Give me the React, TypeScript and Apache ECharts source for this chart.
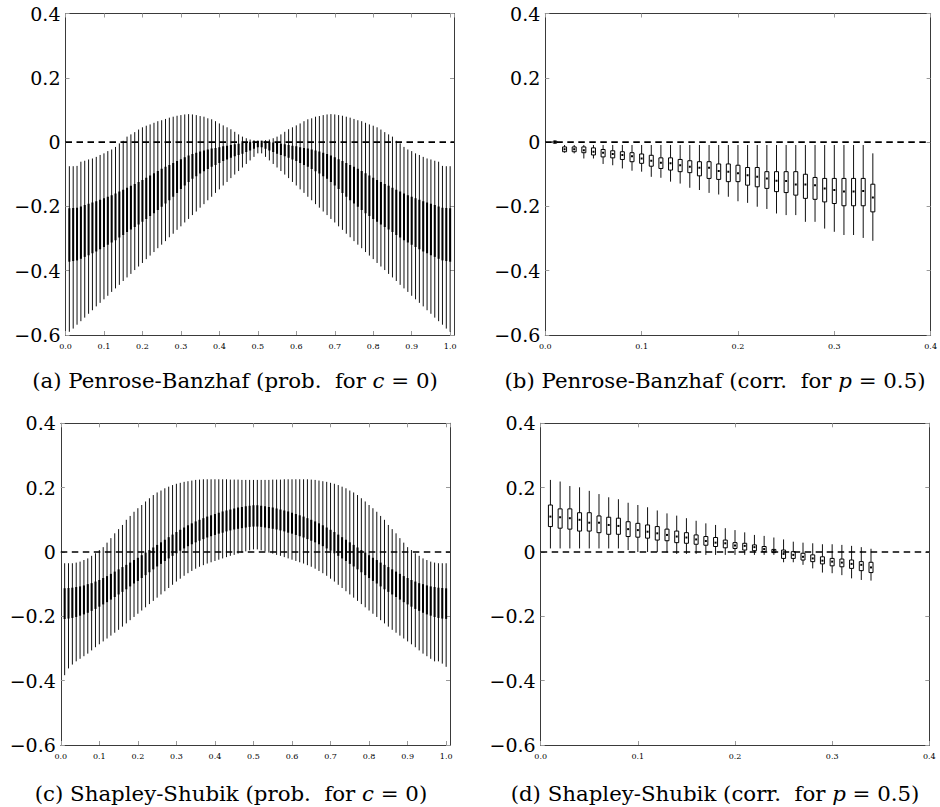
import React, { useEffect, useRef } from "react";
import * as echarts from "echarts";

// ---------- positions (x of each box) ----------
const probPositions: number[] = Array.from({ length: 100 }, (_, i) => (i + 1) / 100);
const corrPositions: number[] = Array.from({ length: 34 }, (_, i) => (i + 1) / 100);

const probRange = [0, 1.01];
const corrRange = [0, 0.4];
const yTicks = [-0.6, -0.4, -0.2, 0, 0.2, 0.4];

// ---------- (a) Penrose-Banzhaf, prob. for c = 0 ----------
const aMax = [
  -0.075, -0.075, -0.074, -0.061, -0.058, -0.054, -0.051, -0.046, -0.040, -0.035,
  -0.028, -0.023, -0.015, -0.004, 0.004, 0.017, 0.024, 0.031, 0.039, 0.046,
  0.051, 0.055, 0.060, 0.065, 0.068, 0.072, 0.076, 0.079, 0.082, 0.084,
  0.086, 0.087, 0.086, 0.084, 0.081, 0.079, 0.074, 0.071, 0.065, 0.058,
  0.052, 0.046, 0.040, 0.032, 0.024, 0.017, 0.012, 0.008, 0.006, 0.004,
  0.004, 0.006, 0.008, 0.012, 0.017, 0.024, 0.032, 0.040, 0.046, 0.052,
  0.058, 0.065, 0.071, 0.074, 0.079, 0.081, 0.084, 0.086, 0.087, 0.086,
  0.084, 0.082, 0.079, 0.076, 0.072, 0.068, 0.065, 0.060, 0.055, 0.051,
  0.046, 0.039, 0.031, 0.024, 0.017, 0.004, -0.004, -0.015, -0.023, -0.028,
  -0.035, -0.040, -0.046, -0.051, -0.054, -0.058, -0.061, -0.074, -0.075, -0.075,
];
const aQ3 = [
  -0.206, -0.205, -0.204, -0.200, -0.196, -0.192, -0.188, -0.184, -0.179, -0.175,
  -0.170, -0.165, -0.160, -0.154, -0.148, -0.142, -0.136, -0.130, -0.124, -0.118,
  -0.111, -0.104, -0.097, -0.090, -0.083, -0.077, -0.071, -0.065, -0.059, -0.053,
  -0.047, -0.042, -0.037, -0.033, -0.029, -0.026, -0.023, -0.020, -0.018, -0.016,
  -0.013, -0.011, -0.009, -0.007, -0.005, -0.003, -0.001, 0.001, 0.003, 0.004,
  0.004, 0.003, 0.001, -0.001, -0.003, -0.005, -0.007, -0.009, -0.011, -0.013,
  -0.016, -0.018, -0.020, -0.023, -0.026, -0.029, -0.033, -0.037, -0.042, -0.047,
  -0.053, -0.059, -0.065, -0.071, -0.077, -0.083, -0.090, -0.097, -0.104, -0.111,
  -0.118, -0.124, -0.130, -0.136, -0.142, -0.148, -0.154, -0.160, -0.165, -0.170,
  -0.175, -0.179, -0.184, -0.188, -0.192, -0.196, -0.200, -0.204, -0.205, -0.206,
];
const aMed = [
  -0.290, -0.288, -0.286, -0.282, -0.277, -0.272, -0.267, -0.262, -0.256, -0.250,
  -0.244, -0.238, -0.232, -0.225, -0.218, -0.211, -0.204, -0.197, -0.190, -0.183,
  -0.175, -0.167, -0.159, -0.151, -0.142, -0.134, -0.126, -0.118, -0.109, -0.100,
  -0.091, -0.083, -0.076, -0.070, -0.064, -0.059, -0.054, -0.049, -0.045, -0.041,
  -0.036, -0.033, -0.029, -0.026, -0.022, -0.019, -0.016, -0.012, -0.009, -0.006,
  -0.006, -0.009, -0.012, -0.016, -0.019, -0.022, -0.026, -0.029, -0.033, -0.036,
  -0.041, -0.045, -0.049, -0.054, -0.059, -0.064, -0.070, -0.076, -0.083, -0.091,
  -0.100, -0.109, -0.118, -0.126, -0.134, -0.142, -0.151, -0.159, -0.167, -0.175,
  -0.183, -0.190, -0.197, -0.204, -0.211, -0.218, -0.225, -0.232, -0.238, -0.244,
  -0.250, -0.256, -0.262, -0.267, -0.272, -0.277, -0.282, -0.286, -0.288, -0.290,
];
const aQ1 = [
  -0.372, -0.370, -0.368, -0.363, -0.357, -0.352, -0.346, -0.340, -0.333, -0.326,
  -0.319, -0.312, -0.305, -0.297, -0.289, -0.280, -0.272, -0.264, -0.256, -0.248,
  -0.239, -0.230, -0.221, -0.211, -0.201, -0.191, -0.181, -0.170, -0.158, -0.146,
  -0.135, -0.124, -0.114, -0.106, -0.098, -0.091, -0.084, -0.077, -0.071, -0.065,
  -0.059, -0.054, -0.049, -0.044, -0.040, -0.036, -0.031, -0.026, -0.021, -0.016,
  -0.016, -0.021, -0.026, -0.031, -0.036, -0.040, -0.044, -0.049, -0.054, -0.059,
  -0.065, -0.071, -0.077, -0.084, -0.091, -0.098, -0.106, -0.114, -0.124, -0.135,
  -0.146, -0.158, -0.170, -0.181, -0.191, -0.201, -0.211, -0.221, -0.230, -0.239,
  -0.248, -0.256, -0.264, -0.272, -0.280, -0.289, -0.297, -0.305, -0.312, -0.319,
  -0.326, -0.333, -0.340, -0.346, -0.352, -0.357, -0.363, -0.368, -0.370, -0.372,
];
const aMin = [
  -0.590, -0.580, -0.568, -0.557, -0.546, -0.534, -0.523, -0.511, -0.500, -0.489,
  -0.478, -0.466, -0.455, -0.444, -0.432, -0.421, -0.410, -0.398, -0.387, -0.376,
  -0.364, -0.353, -0.342, -0.330, -0.319, -0.308, -0.296, -0.285, -0.273, -0.262,
  -0.250, -0.239, -0.227, -0.216, -0.204, -0.193, -0.181, -0.170, -0.158, -0.147,
  -0.135, -0.124, -0.112, -0.101, -0.090, -0.079, -0.068, -0.057, -0.046, -0.035,
  -0.035, -0.046, -0.057, -0.068, -0.079, -0.090, -0.101, -0.112, -0.124, -0.135,
  -0.147, -0.158, -0.170, -0.181, -0.193, -0.204, -0.216, -0.227, -0.239, -0.250,
  -0.262, -0.273, -0.285, -0.296, -0.308, -0.319, -0.330, -0.342, -0.353, -0.364,
  -0.376, -0.387, -0.398, -0.410, -0.421, -0.432, -0.444, -0.455, -0.466, -0.478,
  -0.489, -0.500, -0.511, -0.523, -0.534, -0.546, -0.557, -0.568, -0.580, -0.590,
];

// ---------- (b) Penrose-Banzhaf, corr. for p = 0.5 ----------
const bMax = [
  0.006, -0.009, -0.009, -0.009, -0.009, -0.009, -0.009, -0.009, -0.009, -0.009,
  -0.009, -0.009, -0.009, -0.009, -0.009, -0.009, -0.009, -0.009, -0.009, -0.009,
  -0.009, -0.009, -0.009, -0.009, -0.009, -0.009, -0.009, -0.009, -0.009, -0.009,
  -0.009, -0.009, -0.009, -0.035,
];
const bQ3 = [
  0.003, -0.015, -0.015, -0.015, -0.018, -0.023, -0.027, -0.030, -0.033, -0.037,
  -0.041, -0.049, -0.049, -0.054, -0.058, -0.061, -0.061, -0.068, -0.068, -0.072,
  -0.079, -0.079, -0.092, -0.092, -0.092, -0.092, -0.100, -0.110, -0.113, -0.113,
  -0.113, -0.113, -0.113, -0.131,
];
const bMed = [
  0.000, -0.022, -0.022, -0.025, -0.030, -0.033, -0.037, -0.040, -0.044, -0.051,
  -0.058, -0.064, -0.066, -0.072, -0.077, -0.080, -0.080, -0.090, -0.092, -0.097,
  -0.103, -0.108, -0.113, -0.120, -0.121, -0.132, -0.132, -0.134, -0.144, -0.149,
  -0.154, -0.154, -0.152, -0.172,
];
const bQ1 = [
  -0.003, -0.030, -0.030, -0.033, -0.040, -0.046, -0.049, -0.054, -0.061, -0.066,
  -0.075, -0.082, -0.087, -0.092, -0.095, -0.105, -0.113, -0.116, -0.123, -0.123,
  -0.134, -0.139, -0.144, -0.154, -0.157, -0.165, -0.175, -0.178, -0.186, -0.191,
  -0.198, -0.198, -0.198, -0.217,
];
const bMin = [
  -0.006, -0.033, -0.035, -0.051, -0.051, -0.068, -0.072, -0.082, -0.089, -0.092,
  -0.108, -0.111, -0.123, -0.129, -0.142, -0.149, -0.158, -0.163, -0.170, -0.184,
  -0.189, -0.201, -0.208, -0.222, -0.227, -0.227, -0.248, -0.248, -0.269, -0.279,
  -0.289, -0.289, -0.298, -0.307,
];

// ---------- (c) Shapley-Shubik, prob. for c = 0 ----------
const cMax = [
  -0.035, -0.035, -0.035, -0.033, -0.030, -0.025, -0.020, -0.012, -0.004, 0.006,
  0.015, 0.029, 0.043, 0.058, 0.071, 0.084, 0.100, 0.112, 0.125, 0.136,
  0.146, 0.157, 0.167, 0.177, 0.185, 0.191, 0.198, 0.203, 0.208, 0.212,
  0.215, 0.218, 0.220, 0.222, 0.224, 0.225, 0.226, 0.226, 0.226, 0.226,
  0.226, 0.226, 0.226, 0.225, 0.225, 0.225, 0.224, 0.224, 0.224, 0.224,
  0.224, 0.224, 0.224, 0.224, 0.225, 0.225, 0.225, 0.226, 0.226, 0.226,
  0.226, 0.226, 0.226, 0.226, 0.225, 0.224, 0.222, 0.220, 0.218, 0.215,
  0.212, 0.208, 0.203, 0.198, 0.191, 0.185, 0.177, 0.167, 0.157, 0.146,
  0.136, 0.125, 0.112, 0.100, 0.084, 0.071, 0.058, 0.043, 0.029, 0.015,
  0.006, -0.004, -0.012, -0.020, -0.025, -0.030, -0.033, -0.035, -0.035, -0.035,
];
const cQ3 = [
  -0.113, -0.112, -0.111, -0.109, -0.107, -0.104, -0.100, -0.097, -0.092, -0.087,
  -0.081, -0.075, -0.068, -0.061, -0.054, -0.047, -0.040, -0.033, -0.025, -0.018,
  -0.010, -0.002, 0.006, 0.014, 0.022, 0.030, 0.038, 0.046, 0.054, 0.062,
  0.069, 0.076, 0.083, 0.089, 0.095, 0.100, 0.105, 0.110, 0.114, 0.118,
  0.122, 0.126, 0.129, 0.132, 0.135, 0.138, 0.140, 0.142, 0.144, 0.145,
  0.145, 0.144, 0.142, 0.140, 0.138, 0.135, 0.132, 0.129, 0.126, 0.122,
  0.118, 0.114, 0.110, 0.105, 0.100, 0.095, 0.089, 0.083, 0.076, 0.069,
  0.062, 0.054, 0.046, 0.038, 0.030, 0.022, 0.014, 0.006, -0.002, -0.010,
  -0.018, -0.025, -0.033, -0.040, -0.047, -0.054, -0.061, -0.068, -0.075, -0.081,
  -0.087, -0.092, -0.097, -0.100, -0.104, -0.107, -0.109, -0.111, -0.112, -0.113,
];
const cMed = [
  -0.160, -0.160, -0.158, -0.156, -0.153, -0.149, -0.145, -0.140, -0.135, -0.129,
  -0.122, -0.116, -0.108, -0.101, -0.093, -0.086, -0.078, -0.070, -0.062, -0.054,
  -0.046, -0.037, -0.029, -0.020, -0.012, -0.004, 0.005, 0.013, 0.021, 0.029,
  0.037, 0.044, 0.051, 0.057, 0.063, 0.068, 0.073, 0.078, 0.082, 0.086,
  0.090, 0.093, 0.097, 0.100, 0.103, 0.105, 0.107, 0.109, 0.111, 0.112,
  0.112, 0.111, 0.109, 0.107, 0.105, 0.103, 0.100, 0.097, 0.093, 0.090,
  0.086, 0.082, 0.078, 0.073, 0.068, 0.063, 0.057, 0.051, 0.044, 0.037,
  0.029, 0.021, 0.013, 0.005, -0.004, -0.012, -0.020, -0.029, -0.037, -0.046,
  -0.054, -0.062, -0.070, -0.078, -0.086, -0.093, -0.101, -0.108, -0.116, -0.122,
  -0.129, -0.135, -0.140, -0.145, -0.149, -0.153, -0.156, -0.158, -0.160, -0.160,
];
const cQ1 = [
  -0.208, -0.207, -0.205, -0.202, -0.198, -0.194, -0.189, -0.183, -0.177, -0.170,
  -0.163, -0.156, -0.148, -0.140, -0.132, -0.124, -0.116, -0.107, -0.098, -0.090,
  -0.081, -0.072, -0.063, -0.054, -0.045, -0.037, -0.028, -0.020, -0.012, -0.004,
  0.004, 0.011, 0.018, 0.024, 0.030, 0.035, 0.040, 0.045, 0.049, 0.053,
  0.057, 0.060, 0.064, 0.067, 0.070, 0.072, 0.074, 0.076, 0.078, 0.079,
  0.079, 0.078, 0.076, 0.074, 0.072, 0.070, 0.067, 0.064, 0.060, 0.057,
  0.053, 0.049, 0.045, 0.040, 0.035, 0.030, 0.024, 0.018, 0.011, 0.004,
  -0.004, -0.012, -0.020, -0.028, -0.037, -0.045, -0.054, -0.063, -0.072, -0.081,
  -0.090, -0.098, -0.107, -0.116, -0.124, -0.132, -0.140, -0.148, -0.156, -0.163,
  -0.170, -0.177, -0.183, -0.189, -0.194, -0.198, -0.202, -0.205, -0.207, -0.208,
];
const cMin = [
  -0.383, -0.362, -0.350, -0.340, -0.332, -0.324, -0.316, -0.306, -0.296, -0.287,
  -0.278, -0.269, -0.260, -0.251, -0.242, -0.232, -0.222, -0.212, -0.202, -0.192,
  -0.182, -0.172, -0.162, -0.152, -0.142, -0.132, -0.122, -0.112, -0.102, -0.092,
  -0.083, -0.074, -0.066, -0.059, -0.052, -0.046, -0.041, -0.036, -0.032, -0.028,
  -0.024, -0.020, -0.016, -0.012, -0.009, -0.005, -0.002, 0.002, 0.005, 0.008,
  0.008, 0.005, 0.002, -0.002, -0.005, -0.009, -0.012, -0.016, -0.020, -0.024,
  -0.028, -0.032, -0.036, -0.041, -0.046, -0.052, -0.059, -0.066, -0.074, -0.083,
  -0.092, -0.102, -0.112, -0.122, -0.132, -0.142, -0.152, -0.162, -0.172, -0.182,
  -0.192, -0.202, -0.212, -0.222, -0.232, -0.242, -0.251, -0.260, -0.269, -0.278,
  -0.287, -0.296, -0.306, -0.316, -0.324, -0.332, -0.340, -0.340, -0.347, -0.357,
];

// ---------- (d) Shapley-Shubik, corr. for p = 0.5 ----------
const dMax = [
  0.224, 0.219, 0.205, 0.201, 0.190, 0.180, 0.170, 0.164, 0.153, 0.146,
  0.139, 0.129, 0.120, 0.113, 0.105, 0.097, 0.089, 0.084, 0.074, 0.068,
  0.061, 0.053, 0.050, 0.045, 0.039, 0.032, 0.029, 0.027, 0.024, 0.024,
  0.022, 0.019, 0.015, 0.010,
];
const dQ3 = [
  0.146, 0.134, 0.134, 0.122, 0.122, 0.112, 0.108, 0.105, 0.094, 0.089,
  0.084, 0.079, 0.071, 0.065, 0.060, 0.053, 0.048, 0.045, 0.037, 0.029,
  0.027, 0.022, 0.017, 0.008, 0.006, 0.001, -0.004, -0.009, -0.015, -0.020,
  -0.022, -0.025, -0.030, -0.032,
];
const dMed = [
  0.110, 0.108, 0.105, 0.100, 0.091, 0.091, 0.084, 0.081, 0.071, 0.068,
  0.063, 0.058, 0.053, 0.048, 0.045, 0.039, 0.034, 0.029, 0.027, 0.020,
  0.019, 0.015, 0.009, 0.004, -0.006, -0.009, -0.015, -0.020, -0.027, -0.030,
  -0.033, -0.037, -0.040, -0.048,
];
const dQ1 = [
  0.079, 0.074, 0.071, 0.065, 0.065, 0.060, 0.055, 0.055, 0.048, 0.046,
  0.043, 0.037, 0.035, 0.029, 0.027, 0.024, 0.021, 0.017, 0.013, 0.011,
  0.006, 0.004, 0.001, -0.002, -0.020, -0.020, -0.025, -0.030, -0.037, -0.043,
  -0.046, -0.051, -0.058, -0.064,
];
const dMin = [
  0.011, 0.011, 0.011, 0.011, 0.011, 0.011, 0.011, 0.011, 0.006, 0.000,
  0.000, 0.000, -0.002, -0.006, -0.006, -0.006, -0.009, -0.009, -0.009, -0.009,
  -0.009, -0.009, -0.009, -0.009, -0.032, -0.032, -0.040, -0.051, -0.064, -0.066,
  -0.072, -0.082, -0.087, -0.089,
];

const captions = [
  "(a) Penrose-Banzhaf (prob.\u00a0 for {i|c} = 0)",
  "(b) Penrose-Banzhaf (corr.\u00a0 for {i|p} = 0.5)",
  "(c) Shapley-Shubik (prob.\u00a0 for {i|c} = 0)",
  "(d) Shapley-Shubik (corr.\u00a0 for {i|p} = 0.5)",
];

const FONT = "'DejaVu Serif', 'Liberation Serif', serif";

function boxData(pos: number[], mn: number[], q1: number[], md: number[], q3: number[], mx: number[]) {
  return pos.map((x, k) => [x, mn[k], q1[k], md[k], q3[k], mx[k]]);
}

function makeRender(kind: "thin" | "wide") {
  return (params: any, api: any) => {
    const x = api.value(0);
    const pMin = api.coord([x, api.value(1)]);
    const pQ1 = api.coord([x, api.value(2)]);
    const pMed = api.coord([x, api.value(3)]);
    const pQ3 = api.coord([x, api.value(4)]);
    const pMax = api.coord([x, api.value(5)]);
    const cx = pMin[0];
    const children: any[] = [
      {
        type: "line",
        shape: { x1: cx, y1: pMax[1], x2: cx, y2: pMin[1] },
        style: { stroke: "#111", lineWidth: 1 },
      },
    ];
    if (kind === "thin") {
      children.push({
        type: "rect",
        shape: { x: cx - 1, y: pQ3[1], width: 2, height: Math.max(pQ1[1] - pQ3[1], 0.5) },
        style: { fill: "#000" },
      });
    } else {
      children.push({
        type: "rect",
        shape: { x: cx - 2, y: pQ3[1], width: 4, height: Math.max(pQ1[1] - pQ3[1], 0.5) },
        style: { fill: "#fff", stroke: "#000", lineWidth: 1 },
      });
      children.push({
        type: "rect",
        shape: { x: cx - 1, y: pMed[1] - 1, width: 2, height: 2 },
        style: { fill: "#000" },
      });
    }
    return { type: "group", children };
  };
}

const yFmt = (v: number) => {
  if (Math.abs(v) < 1e-9) return "0";
  const s = Math.abs(v).toFixed(1);
  return v < 0 ? "\u2212" + s : s;
};
const xFmt = (v: number) => {
  const r = Math.round(v * 10) / 10;
  if (Math.abs(r - v) > 1e-6) return "";
  return r.toFixed(1);
};

const grids = [
  { left: 65.5, top: 13.5, width: 388.5, height: 321.5 },
  { left: 545.3, top: 13.5, width: 388, height: 321.5 },
  { left: 60.8, top: 423.3, width: 389.2, height: 321.7 },
  { left: 540.7, top: 423.3, width: 388.6, height: 321.7 },
];
const captionPos = [
  [235, 380],
  [715, 380],
  [231, 793],
  [715, 793],
];

export default function App() {
  const ref = useRef<HTMLDivElement>(null);
  useEffect(() => {
    if (!ref.current) return;
    const chart = echarts.init(ref.current, undefined, { renderer: "svg" });
    const ranges = [probRange, corrRange, probRange, corrRange];
    const xAxes: any[] = [];
    const yAxes: any[] = [];
    const frameColor = "#3a3a3a";
    const tickColor = "#9a9a9a";
    ranges.forEach((r, g) => {
      const base = {
        type: "value",
        gridIndex: g,
        min: r[0],
        max: r[1],
        interval: 0.1,
        splitLine: { show: false },
        axisLine: { show: true, onZero: false, lineStyle: { color: frameColor, width: 1 } },
        axisTick: { show: true, inside: true, length: 4, lineStyle: { color: tickColor } },
      };
      xAxes.push({
        ...base,
        position: "bottom",
        axisLabel: {
          show: true,
          formatter: xFmt,
          fontFamily: FONT,
          fontSize: 8,
          color: "#000",
          margin: 7,
          showMaxLabel: r[1] === 0.4 ? true : false,
        },
      });
      xAxes.push({ ...base, position: "top", axisLabel: { show: false } });
      const ybase = {
        type: "value",
        gridIndex: g,
        min: yTicks[0],
        max: yTicks[yTicks.length - 1],
        interval: 0.2,
        splitLine: { show: false },
        axisLine: { show: true, onZero: false, lineStyle: { color: frameColor, width: 1 } },
        axisTick: { show: true, inside: true, length: 4, lineStyle: { color: tickColor } },
      };
      yAxes.push({
        ...ybase,
        position: "left",
        axisLabel: { show: true, formatter: yFmt, fontFamily: FONT, fontSize: 19, color: "#000", margin: 5 },
      });
      yAxes.push({ ...ybase, position: "right", axisLabel: { show: false } });
    });

    const datasets = [
      { data: boxData(probPositions, aMin, aQ1, aMed, aQ3, aMax), kind: "thin" as const },
      { data: boxData(corrPositions, bMin, bQ1, bMed, bQ3, bMax), kind: "wide" as const },
      { data: boxData(probPositions, cMin, cQ1, cMed, cQ3, cMax), kind: "thin" as const },
      { data: boxData(corrPositions, dMin, dQ1, dMed, dQ3, dMax), kind: "wide" as const },
    ];

    const series: any[] = [];
    datasets.forEach((d, g) => {
      series.push({
        type: "custom",
        xAxisIndex: g * 2,
        yAxisIndex: g * 2,
        renderItem: makeRender(d.kind),
        encode: { x: 0, y: [1, 2, 3, 4, 5] },
        data: d.data,
        clip: true,
        silent: true,
        z: 2,
      });
      series.push({
        type: "line",
        xAxisIndex: g * 2,
        yAxisIndex: g * 2,
        data: [
          [ranges[g][0], 0],
          [ranges[g][1], 0],
        ],
        symbol: "none",
        silent: true,
        lineStyle: { color: "#000", width: 1.6, type: [6.5, 4.5] },
        z: 3,
      });
    });

    chart.setOption({
      animation: false,
      grid: grids.map((g) => ({ ...g, containLabel: false })),
      xAxis: xAxes,
      yAxis: yAxes,
      series,
      graphic: captions.map((t, k) => ({
        type: "text",
        x: captionPos[k][0],
        y: captionPos[k][1],
        style: {
          text: t,
          fontFamily: FONT,
          fontSize: 21.3,
          fill: "#000",
          align: "center",
          verticalAlign: "middle",
          rich: { i: { fontStyle: "italic", fontFamily: FONT, fontSize: 21.3, fill: "#000" } },
        },
      })),
    });
    return () => chart.dispose();
  }, []);
  return (
    <div
      ref={ref}
      style={{ position: "absolute", left: 0, top: 0, width: 940, height: 807, background: "#fff" }}
    />
  );
}
